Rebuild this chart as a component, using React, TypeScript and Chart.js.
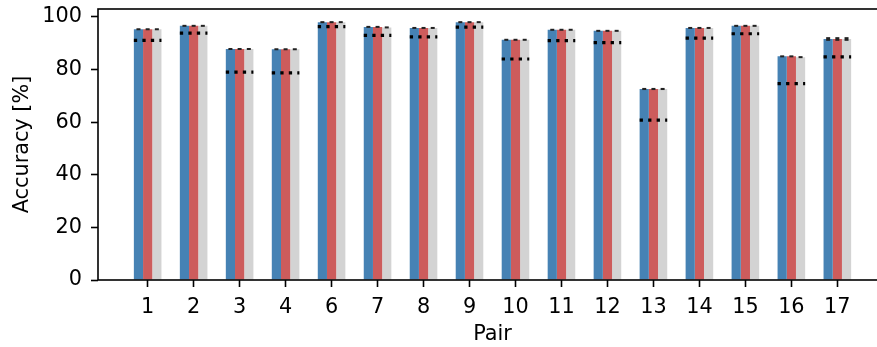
import React, { useEffect, useRef } from "react";
import { Chart, registerables } from "chart.js";

Chart.register(...registerables);

const pairLabels = ["1", "2", "3", "4", "6", "7", "8", "9", "10", "11", "12", "13", "14", "15", "16", "17"];
const seriesA = [95.3, 96.6, 87.8, 87.7, 98.0, 96.2, 95.8, 98.0, 91.3, 95.1, 94.7, 72.6, 95.8, 96.6, 85.0, 91.6];
const seriesB = [95.3, 96.6, 87.8, 87.7, 98.0, 96.2, 95.8, 98.0, 91.3, 95.1, 94.7, 72.6, 95.8, 96.6, 85.0, 91.6];
const seriesC = [95.3, 96.6, 87.8, 87.7, 98.0, 96.0, 95.8, 98.0, 91.3, 95.1, 94.7, 72.6, 95.8, 96.6, 84.7, 91.6];
const errA = [0.2, 0.2, 0.2, 0.2, 0.2, 0.2, 0.2, 0.2, 0.2, 0.2, 0.2, 0.4, 0.2, 0.2, 0.3, 0.7];
const errB = [0.2, 0.2, 0.2, 0.2, 0.2, 0.2, 0.2, 0.2, 0.2, 0.2, 0.2, 0.4, 0.2, 0.2, 0.3, 0.7];
const errC = [0.2, 0.2, 0.2, 0.2, 0.2, 0.2, 0.2, 0.2, 0.2, 0.2, 0.2, 0.4, 0.2, 0.2, 0.3, 0.7];
const baseline = [91.1, 93.8, 79.0, 78.7, 96.3, 93.0, 92.4, 96.1, 84.0, 91.0, 90.2, 60.8, 91.9, 93.6, 74.6, 84.8];
const yTicks = [0, 20, 40, 60, 80, 100];

const FONT = "'DejaVu Sans', sans-serif";
const FS = 20.8;

export default function App() {
  const ref = useRef<HTMLCanvasElement | null>(null);

  useEffect(() => {
    if (!ref.current) return;
    const errs = [errA, errB, errC];
    const overlay = {
      id: "overlay",
      afterDatasetsDraw(chart: any) {
        const ctx = chart.ctx;
        const x = chart.scales.x;
        const y = chart.scales.y;
        const unit = x.getPixelForValue(1) - x.getPixelForValue(0);
        ctx.save();
        // baseline dotted lines
        ctx.strokeStyle = "#000";
        ctx.lineWidth = 3.2;
        ctx.setLineDash([3.3, 5.2]);
        ctx.lineCap = "butt";
        baseline.forEach((v, i) => {
          const cx = x.getPixelForValue(i);
          const py = y.getPixelForValue(v);
          ctx.beginPath();
          ctx.moveTo(cx - 0.3 * unit, py);
          ctx.lineTo(cx + 0.3 * unit, py);
          ctx.stroke();
        });
        ctx.setLineDash([]);
        // error markers
        ctx.fillStyle = "#222";
        [0, 1, 2].forEach((d) => {
          const meta = chart.getDatasetMeta(d);
          const vals = chart.data.datasets[d].data;
          meta.data.forEach((bar: any, i: number) => {
            const v = vals[i].y;
            const e = errs[d][i];
            const t = y.getPixelForValue(v + e);
            const b = y.getPixelForValue(v - e);
            const h = Math.max(2, b - t);
            const mid = (t + b) / 2;
            ctx.fillRect(bar.x - 2, mid - h / 2, 4, h);
          });
        });
        // spines
        const a = chart.chartArea;
        ctx.strokeStyle = "#000";
        ctx.lineWidth = 1.6;
        ctx.strokeRect(a.left, a.top, a.right - a.left, a.bottom - a.top);
        ctx.restore();
      },
    };

    const mk = (vals: number[]) => vals.map((v, i) => ({ x: i, y: v }));
    const chart = new Chart(ref.current, {
      type: "bar",
      data: {
        datasets: [
          { label: "A", data: mk(seriesA), backgroundColor: "#4682B4", categoryPercentage: 0.6, barPercentage: 1.0 },
          { label: "B", data: mk(seriesB), backgroundColor: "#CD5C5C", categoryPercentage: 0.6, barPercentage: 1.0 },
          { label: "C", data: mk(seriesC), backgroundColor: "#D3D3D3", categoryPercentage: 0.6, barPercentage: 1.0 },
        ] as any,
      },
      options: {
        animation: false,
        responsive: false,
        devicePixelRatio: 1,
        layout: { padding: { top: 9, right: 13, left: 0, bottom: 0 } },
        plugins: { legend: { display: false }, tooltip: { enabled: false } },
        scales: {
          x: {
            type: "linear",
            min: -1.08,
            max: 16.08,
            offset: false,
            afterBuildTicks: (s: any) => {
              s.ticks = pairLabels.map((_, i) => ({ value: i }));
            },
            afterFit: (s: any) => {
              s.height = 67;
              s.paddingLeft = 0;
              s.paddingRight = 0;
            },
            ticks: {
              autoSkip: false,
              maxRotation: 0,
              padding: 8,
              color: "#000",
              font: { family: FONT, size: FS },
              callback: (v: any) => pairLabels[v] ?? "",
            },
            grid: { display: true, drawOnChartArea: false, drawTicks: true, tickLength: 7, tickWidth: 1.6, tickColor: "#000", offset: false },
            border: { display: false },
            title: { display: true, text: "Pair", color: "#000", font: { family: FONT, size: FS }, padding: { top: 0, bottom: 0 } },
          },
          y: {
            type: "linear",
            min: 0,
            max: 103,
            afterBuildTicks: (s: any) => {
              s.ticks = yTicks.map((v) => ({ value: v }));
            },
            afterFit: (s: any) => {
              s.width = 98;
              s.paddingTop = 0;
              s.paddingBottom = 0;
            },
            ticks: { padding: 9, color: "#000", font: { family: FONT, size: FS } },
            grid: { display: true, drawOnChartArea: false, drawTicks: true, tickLength: 7, tickWidth: 1.6, tickColor: "#000" },
            border: { display: false },
            title: { display: true, text: "Accuracy [%]", color: "#000", font: { family: FONT, size: FS }, padding: { top: 10, bottom: 0 } },
          },
        },
      } as any,
      plugins: [overlay],
    });
    return () => chart.destroy();
  }, []);

  return (
    <div style={{ position: "absolute", left: 0, top: 0, width: 877, height: 347, overflow: "hidden", background: "#fff" }}>
      <canvas ref={ref} width={900} height={347} style={{ width: 900, height: 347, display: "block" }} />
    </div>
  );
}
